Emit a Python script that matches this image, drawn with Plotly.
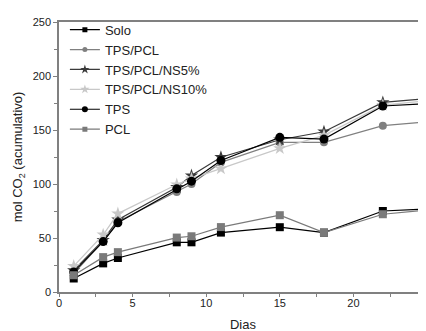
import plotly.graph_objects as go

dias = [1, 3, 4, 8, 9, 11, 15, 18, 22, 25]
solo = [12.5, 26.5, 31.5, 46, 46, 55, 60, 55, 75, 77]
tps_pcl = [17, 47, 65, 92.5, 100, 120, 138.6, 138.6, 154, 157.5]
tps_pcl_ns5 = [20, 48, 67, 97, 107.8, 124.8, 141, 148.4, 175.5, 179]
tps_pcl_ns10 = [24, 53, 72.6, 99.5, 105, 114.2, 133, 145, 173, 177]
tps = [18.6, 46.7, 64.1, 95.5, 102.6, 121.8, 143.2, 141.6, 172.2, 174.5]
pcl = [15.5, 32.3, 36.9, 50.4, 51.6, 60.1, 71.1, 55, 72, 76]

series = [
    ("Solo", solo, "#000000", "square", 8, 5),
    ("TPS/PCL", tps_pcl, "#808080", "circle", 8, 5),
    ("TPS/PCL/NS5%", tps_pcl_ns5, "#3a3a3a", "star", 10, 7),
    ("TPS/PCL/NS10%", tps_pcl_ns10, "#c8c8c8", "star", 10, 7),
    ("TPS", tps, "#000000", "circle", 9, 6),
    ("PCL", pcl, "#7a7a7a", "square", 8, 5),
]

fig = go.Figure()
for name, vals, col, sym, sz, lsz in series:
    fig.add_trace(go.Scatter(
        x=dias, y=vals, name=name, mode="lines+markers", showlegend=False,
        line=dict(color=col, width=1.2),
        marker=dict(color=col, symbol=sym, size=sz),
        cliponaxis=False,
    ))
for name, vals, col, sym, sz, lsz in series:
    fig.add_trace(go.Scatter(
        x=[None], y=[None], name=name, mode="lines+markers",
        line=dict(color=col, width=1.2),
        marker=dict(color=col, symbol=sym, size=lsz),
    ))

axis_font = dict(family="Liberation Sans, Arial", size=11, color="#222")
fig.update_layout(
    width=426, height=331,
    margin=dict(l=51, r=7, t=11, b=47),
    paper_bgcolor="white", plot_bgcolor="white",
    font=dict(family="Liberation Sans, Arial", color="#222"),
    showlegend=True,
    legend=dict(x=0.016, y=1.027, xanchor="left", yanchor="top",
                bgcolor="rgba(0,0,0,0)", font=dict(size=13, color="#222"),
                tracegroupgap=0, itemwidth=30),
    xaxis=dict(range=[0, 25], tickvals=[0, 5, 10, 15, 20, 25], automargin=False,
               showgrid=False, zeroline=False, showline=True, mirror=True,
               linecolor="#808080", linewidth=1.5,
               ticks="outside", ticklen=3, tickcolor="#808080",
               ticklabelstandoff=-3,
               minor=dict(dtick=2.5, tick0=0, ticks="outside", ticklen=3, tickcolor="#808080"),
               tickfont=axis_font,
               title=dict(text="Dias", font=dict(size=13, color="#222"), standoff=12)),
    yaxis=dict(range=[0, 250], tickvals=[0, 50, 100, 150, 200, 250], automargin=False,
               showgrid=False, zeroline=False, showline=True,
               linecolor="#808080", linewidth=1.5,
               ticks="outside", ticklen=4, tickcolor="#808080",
               minor=dict(dtick=25, tick0=0, ticks="outside", ticklen=3, tickcolor="#808080"),
               tickfont=axis_font,
               title=dict(text="mol CO<sub>2</sub> (acumulativo)", font=dict(size=13, color="#222"), standoff=7)),
)
fig.write_html("out.html")
